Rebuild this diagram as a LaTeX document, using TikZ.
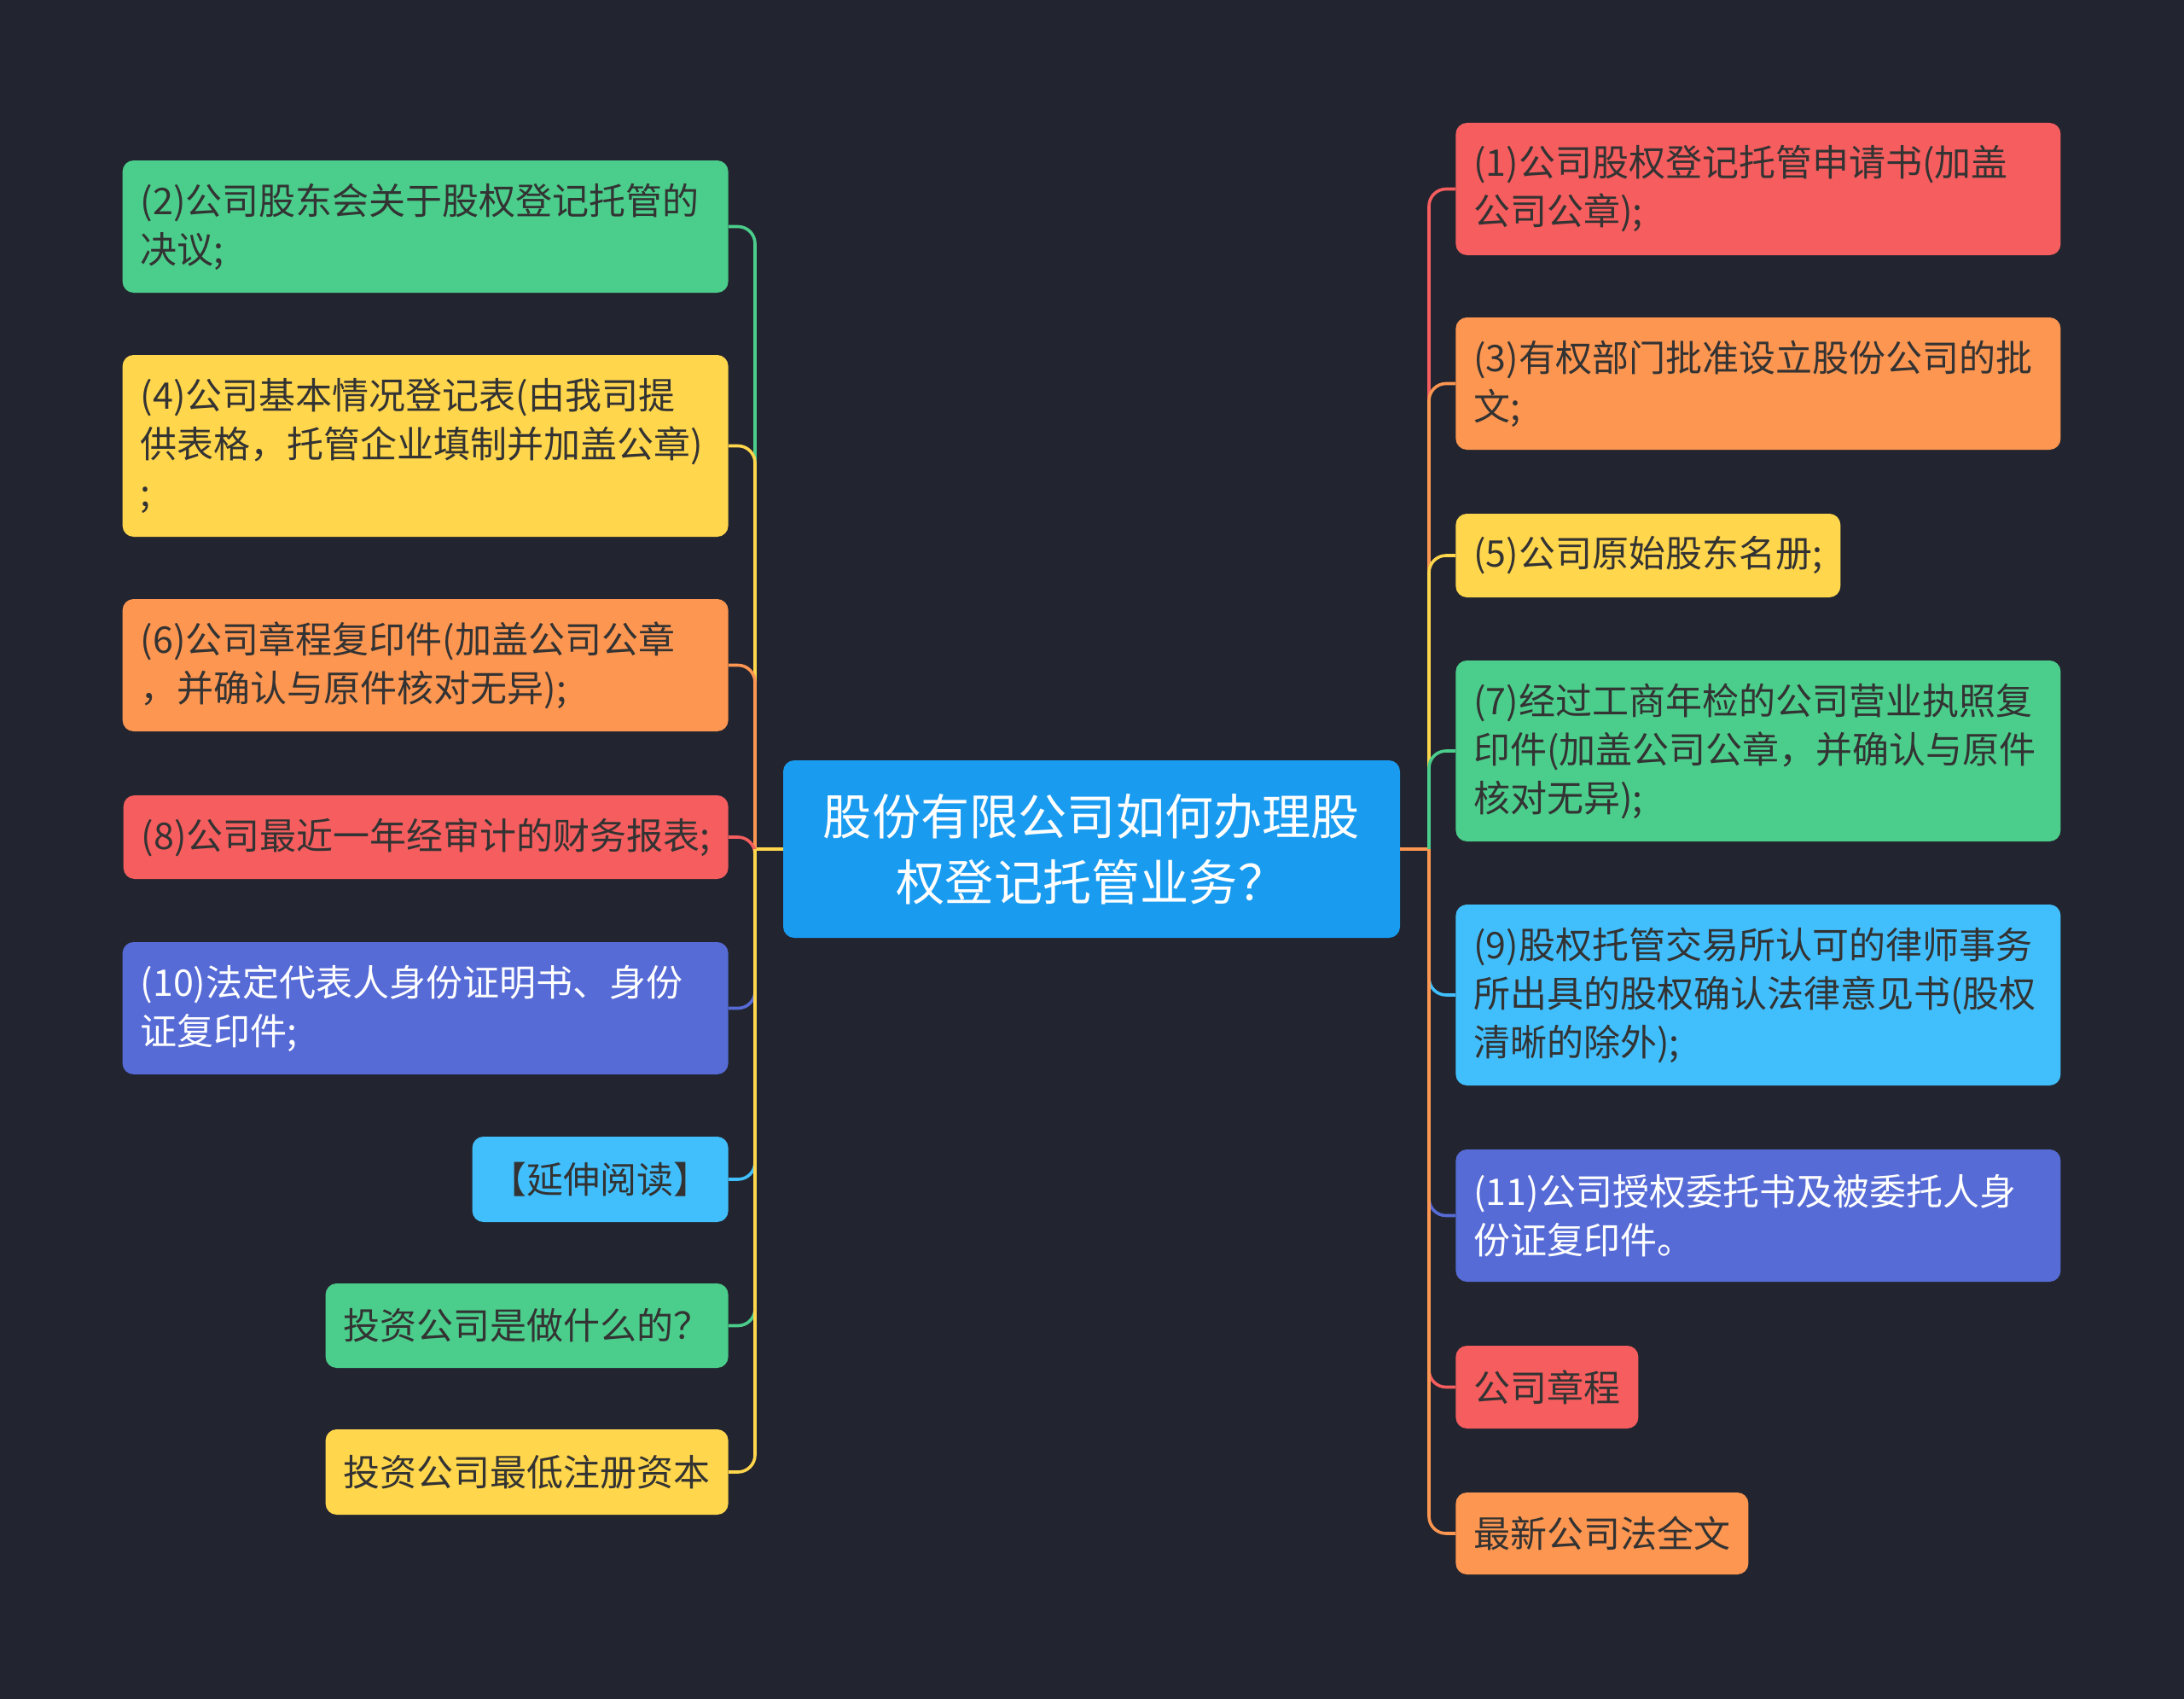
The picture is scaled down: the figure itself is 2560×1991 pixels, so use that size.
\documentclass[tikz,border=0pt]{standalone}
\usepackage{fontspec}
\setmainfont{Noto Sans CJK SC}
\definecolor{bg}{HTML}{22252F}
\definecolor{cgreen}{HTML}{4BCD8B}
\definecolor{cyellow}{HTML}{FFD64C}
\definecolor{corange}{HTML}{FD9651}
\definecolor{cred}{HTML}{F55D5E}
\definecolor{cpurple}{HTML}{566BD6}
\definecolor{clight}{HTML}{41BFFD}
\definecolor{cblue}{HTML}{199BF0}
\definecolor{txt}{HTML}{333333}
\begin{document}
\begin{tikzpicture}[x=0.5pt,y=-0.5pt,
  conn/.style={line width=1.8pt, rounded corners=10pt},
  base/.style={rounded corners=6.5pt, inner xsep=10.5pt, inner ysep=0pt,
    font=\fontsize{21.5}{28.5}\selectfont, text=txt},
  multi/.style={base, align=left},
  single/.style={base, align=center}]
\fill[bg] (0,0) rectangle (2560,1991);
\useasboundingbox (0,0) rectangle (2560,1991);

% center
\node[rounded corners=6.5pt, fill=cblue, text=white, align=center,
  minimum width=361.5pt, minimum height=104pt,
  font=\fontsize{28.6}{38.5}\selectfont] (C) at (1279.5,995)
  {股份有限公司如何办理股\\权登记托管业务？};

% left nodes
\node[multi, fill=cgreen, text width=334pt, minimum height=77.5pt, anchor=east] (L1) at (854,265.5)
  {(2)公司股东会关于股权登记托管的\\决议;};
\node[multi, fill=cyellow, text width=334pt, minimum height=106.5pt, anchor=east] (L2) at (854,522.5)
  {(4)公司基本情况登记表(由我司提\\供表格，托管企业填制并加盖公章)\\;};
\node[multi, fill=corange, text width=334pt, minimum height=77.5pt, anchor=east] (L3) at (854,779.5)
  {(6)公司章程复印件(加盖公司公章\\，并确认与原件核对无异);};
\node[single, fill=cred, minimum width=353.5pt, minimum height=49pt, anchor=east] (L4) at (854,981)
  {(8)公司最近一年经审计的财务报表;};
\node[multi, fill=cpurple, text=white, text width=334pt, minimum height=77.5pt, anchor=east] (L5) at (854,1181.5)
  {(10)法定代表人身份证明书、身份\\证复印件;};
\node[single, fill=clight, minimum width=149.5pt, minimum height=50pt, anchor=east] (L6) at (854,1382)
  {【延伸阅读】};
\node[single, fill=cgreen, minimum width=235pt, minimum height=49.5pt, anchor=east] (L7) at (854,1553.5)
  {投资公司是做什么的？};
\node[single, fill=cyellow, minimum width=235pt, minimum height=50pt, anchor=east] (L8) at (854,1725)
  {投资公司最低注册资本};

% right nodes
\node[multi, fill=cred, text width=333.5pt, minimum height=77.5pt, anchor=west] (R1) at (1706,221.5)
  {(1)公司股权登记托管申请书(加盖\\公司公章);};
\node[multi, fill=corange, text width=333.5pt, minimum height=77.5pt, anchor=west] (R2) at (1706,449.5)
  {(3)有权部门批准设立股份公司的批\\文;};
\node[single, fill=cyellow, minimum width=224.5pt, minimum height=49pt, anchor=west] (R3) at (1706,651)
  {(5)公司原始股东名册;};
\node[multi, fill=cgreen, text width=333.5pt, minimum height=106pt, anchor=west] (R4) at (1706,880)
  {(7)经过工商年检的公司营业执照复\\印件(加盖公司公章，并确认与原件\\核对无异);};
\node[multi, fill=clight, text width=333.5pt, minimum height=106pt, anchor=west] (R5) at (1706,1166)
  {(9)股权托管交易所认可的律师事务\\所出具的股权确认法律意见书(股权\\清晰的除外);};
\node[multi, fill=cpurple, text=white, text width=333.5pt, minimum height=77.5pt, anchor=west] (R6) at (1706,1424.5)
  {(11)公司授权委托书及被委托人身\\份证复印件。};
\node[single, fill=cred, minimum width=106pt, minimum height=48.5pt, anchor=west] (R7) at (1706,1625.5)
  {公司章程};
\node[single, fill=corange, minimum width=170.5pt, minimum height=48pt, anchor=west] (R8) at (1706,1797)
  {最新公司法全文};

% connectors
\coordinate (lt) at (885,995);
\coordinate (rt) at (1675,995);
\draw[conn, cyellow] (C.west) -- (lt);
\draw[conn, corange] (C.east) -- (rt);

\draw[conn, cgreen]  (lt) |- (L1.east);
\draw[conn, cyellow] (lt) |- (L2.east);
\draw[conn, corange] (lt) |- (L3.east);
\draw[conn, cred]    (lt) |- (L4.east);
\draw[conn, cpurple] (lt) |- (L5.east);
\draw[conn, clight]  (lt) |- (L6.east);
\draw[conn, cgreen]  (lt) |- (L7.east);
\draw[conn, cyellow] (lt) |- (L8.east);

\draw[conn, cred]    (rt) |- (R1.west);
\draw[conn, corange] (rt) |- (R2.west);
\draw[conn, cyellow] (rt) |- (R3.west);
\draw[conn, cgreen]  (rt) |- (R4.west);
\draw[conn, clight]  (rt) |- (R5.west);
\draw[conn, cpurple] (rt) |- (R6.west);
\draw[conn, cred]    (rt) |- (R7.west);
\draw[conn, corange] (rt) |- (R8.west);
\end{tikzpicture}
\end{document}
